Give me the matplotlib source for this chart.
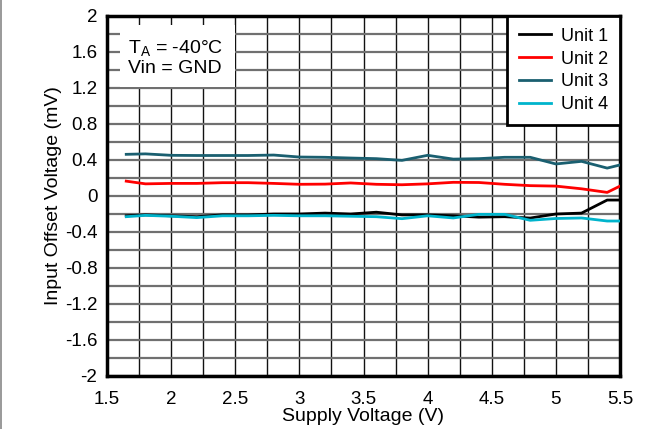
import matplotlib
matplotlib.use("Agg")
import matplotlib.pyplot as plt
from matplotlib.lines import Line2D
from matplotlib.patches import Rectangle
import numpy as np

plt.rcParams['font.family'] = ['Liberation Sans', 'DejaVu Sans']

supply_v = [1.65, 1.8, 2.0, 2.2, 2.4, 2.6, 2.8, 3.0, 3.2, 3.4, 3.6, 3.8, 4.0, 4.2, 4.4, 4.6, 4.8, 5.0, 5.2, 5.4, 5.5]
unit1 = [-0.22, -0.21, -0.22, -0.23, -0.21, -0.21, -0.2, -0.2, -0.19, -0.2, -0.18, -0.21, -0.21, -0.22, -0.235, -0.23, -0.245, -0.2, -0.19, -0.045, -0.045]
unit2 = [0.165, 0.135, 0.14, 0.14, 0.148, 0.148, 0.14, 0.13, 0.132, 0.145, 0.13, 0.125, 0.135, 0.152, 0.15, 0.13, 0.115, 0.11, 0.08, 0.04, 0.11]
unit3 = [0.463, 0.468, 0.452, 0.45, 0.45, 0.45, 0.455, 0.433, 0.43, 0.422, 0.415, 0.396, 0.452, 0.41, 0.415, 0.43, 0.43, 0.356, 0.385, 0.31, 0.345]
unit4 = [-0.23, -0.215, -0.225, -0.24, -0.22, -0.22, -0.215, -0.22, -0.22, -0.225, -0.23, -0.252, -0.22, -0.244, -0.204, -0.204, -0.27, -0.25, -0.244, -0.278, -0.278]

series = [("Unit 1", unit1, "#000000"),
          ("Unit 2", unit2, "#ff0000"),
          ("Unit 3", unit3, "#1a5f70"),
          ("Unit 4", unit4, "#00b4cc")]

xticks = [1.5, 2, 2.5, 3, 3.5, 4, 4.5, 5, 5.5]
xticklabels = ["1.5", "2", "2.5", "3", "3.5", "4", "4.5", "5", "5.5"]
yticks = [-2, -1.6, -1.2, -0.8, -0.4, 0, 0.4, 0.8, 1.2, 1.6, 2]
yticklabels = ["-2", "-1.6", "-1.2", "-0.8", "-0.4", "0", "0.4", "0.8", "1.2", "1.6", "2"]

FS = 13.5

fig = plt.figure(figsize=(6.63, 4.29), dpi=100)
ax = fig.add_axes([107/663, 1-376/429, (620-107)/663, (376-16)/429])

ax.set_xlim(1.5, 5.5)
ax.set_ylim(-2, 2)
ax.set_xticks(xticks)
ax.set_xticklabels(xticklabels)
ax.set_yticks(yticks)
ax.set_yticklabels(yticklabels)
ax.set_xticks(np.arange(1.75, 5.5, 0.5), minor=True)
ax.set_yticks(np.arange(-1.8, 2.0, 0.4), minor=True)
ax.grid(True, which='both', axis='x', color='#111111', linewidth=1.0)
ax.grid(True, which='both', axis='y', color='#707070', linewidth=1.6)
ax.tick_params(which='both', length=0, labelsize=FS)
ax.tick_params(axis='x', pad=11)
ax.tick_params(axis='y', pad=7)
for s in ax.spines.values():
    s.set_linewidth(2.5)
    s.set_color('black')
ax.set_axisbelow(True)

for name, vals, col in series:
    ax.plot(supply_v, vals, color=col, linewidth=2.0, label=name, zorder=3)

ax.set_xlabel("Supply Voltage (V)", fontsize=14, labelpad=0)
ax.set_ylabel("Input Offset Voltage (mV)", fontsize=14, labelpad=2)

leg = ax.legend(loc='upper right', fontsize=13, frameon=True, fancybox=False,
                borderaxespad=0, handlelength=1.8, handletextpad=0.55,
                labelspacing=0.32, borderpad=0.65)
leg.get_frame().set_edgecolor('black')
leg.get_frame().set_linewidth(2.0)
leg.get_frame().set_alpha(1)

ax.add_patch(Rectangle((0.0253, 0.803), 0.2242, 0.172, transform=ax.transAxes,
                       facecolor='white', edgecolor='none', zorder=4))
ax.text(0.0409, 0.885, "T$_\\mathregular{A}$ = -40°C\nVin = GND", transform=ax.transAxes,
        fontsize=14, va='center', ha='left', linespacing=1.08, zorder=5)

fig.add_artist(Line2D([0.0008, 0.0008], [0, 1], transform=fig.transFigure, color='#888888', linewidth=1.2))

fig.savefig("out.png", dpi=100)
